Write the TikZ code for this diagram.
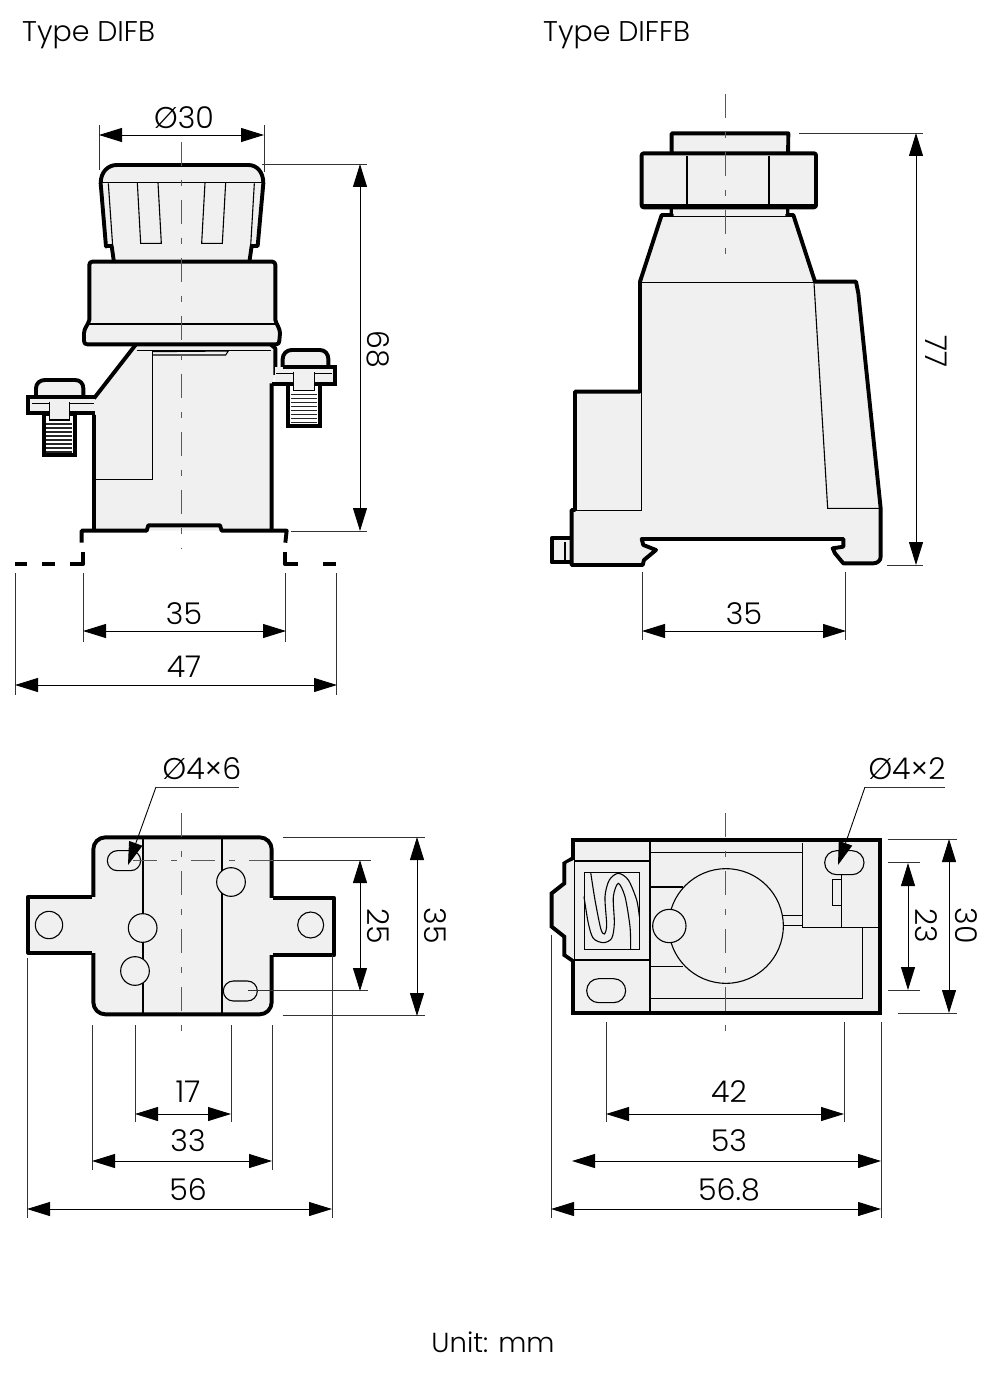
\documentclass[tikz,border=0pt]{standalone}
\usepackage{fontspec}
\setmainfont{Poppins}[UprightFont=* Light]
\usetikzlibrary{arrows.meta}
\tikzset{
    outline/.style={draw,line width=3.9pt,fill=partfill,line join=round},
    heavy/.style={line width=3.9pt,line join=round},
    detail/.style={line width=1.1pt},
    thread/.style={line width=1.5pt,draw=black!85},
    centerline/.style={line width=0.8pt,draw=black!65,dash pattern=on 24pt off 14pt on 6pt off 14pt},
    extline/.style={line width=0.8pt,draw=black!80},
    dimline/.style={line width=0.9pt,{Triangle[length=23pt,width=14pt]}-{Triangle[length=23pt,width=14pt]}},
    leader/.style={line width=0.9pt,-{Triangle[length=23pt,width=14pt]}},
    dimlabel/.style={font=\fontsize{30}{30}\selectfont,inner sep=0pt},
    titlelabel/.style={font=\fontsize{28.5}{29}\selectfont,inner sep=0pt}
}
\definecolor{partfill}{gray}{0.94}
\begin{document}
\begin{tikzpicture}[x=1pt,y=-1pt]
    \useasboundingbox (0,0) rectangle (988,1391);

    \node[titlelabel,anchor=base west] (typeA) at (22,42) {Type DIFB};
    \node[titlelabel,anchor=base west] (typeB) at (543,42) {Type DIFFB};
    \node[titlelabel,anchor=base,font=\fontsize{27.5}{28}\selectfont] (unit) at (493,1352) {Unit: mm};

    % side view, DIFB
    \begin{scope}[shift={(0,90)},scale=1/3]
        % base and rail
        \fill[partfill] (408,763) -- (282,925) -- (282,1322) -- (815,1322) -- (815,881) -- (826,855) -- (826,763) -- cycle;
        \draw[heavy] (245,1358) -- (245,1322) -- (440,1322) -- (445,1306) -- (660,1306) -- (665,1322) -- (860,1322) -- (856,1358);
        \draw[heavy] (45,1423) -- (80,1423) (125,1423) -- (165,1423) (210,1423) -- (248,1423) -- (248,1385);
        \draw[heavy] (856,1385) -- (856,1423) -- (893,1423) (970,1423) -- (1008,1423);
        % body
        \draw[heavy] (408,763) -- (282,925) (282,975) -- (282,1322) (815,880) -- (815,1322);
        \draw[line width=1.6pt] (410,781) -- (812,781);
        \draw[heavy] (812,763) -- (826,775) -- (826,855);
        \draw[detail] (457,781) -- (457,1168) -- (287,1168);
        \draw[detail] (457,785) -- (685,783) -- (677,795) -- (457,795);
        % knob
        \draw[outline] (318,470) -- (302,280) .. controls (302,245) and (325,225) .. (350,225) -- (745,225) .. controls (770,225) and (790,245) .. (790,280) -- (773,468) -- (755,468) -- (748,517) -- (342,517) -- (335,468) -- (318,468) -- cycle;
        \draw[detail] (305,278) -- (787,278);
        \draw[detail] (325,280) -- (338,468) (763,280) -- (752,468);
        \draw[detail] (412,278) -- (422,460) -- (484,460) -- (474,278);
        \draw[detail] (615,278) -- (605,460) -- (667,460) -- (677,278);
        % collar
        \draw[outline] (268,690) -- (268,525) [rounded corners=3pt] -- (268,515) -- (826,515) [sharp corners] -- (826,690) .. controls (830,705) and (840,715) .. (840,730) -- (838,752) .. controls (838,760) and (835,763) .. (828,763) -- (262,763) .. controls (255,763) and (252,760) .. (252,752) -- (252,730) .. controls (252,715) and (264,705) .. (268,690) -- cycle;
        \draw[detail] (258,702) -- (834,702);
        % left screw
        \draw[outline] (108,925) -- (108,895) .. controls (108,880) and (120,870) .. (135,870) -- (225,870) .. controls (240,870) and (250,880) .. (250,895) -- (250,925) -- cycle;
        \draw[draw,line width=3.9pt,fill=white] (131,972) rectangle (225,1095);
        \fill[partfill] (83,922) rectangle (285,970);
        \draw[heavy,line join=miter] (285,922) -- (83,922) -- (83,970) -- (285,970);
        \draw[detail] (95,940) -- (282,940);
        \fill[partfill] (148,935) rectangle (208,990);
        \draw[detail] (148,935) -- (148,990) -- (208,990) -- (208,935);
        \foreach \y in {1002,1014,...,1086} {
            \draw[thread] (139,\y) -- (217,\y);
        }
        % right screw
        \draw[outline] (848,835) -- (848,807) .. controls (848,792) and (860,780) .. (875,780) -- (960,780) .. controls (975,780) and (985,792) .. (985,807) -- (985,835) -- cycle;
        \draw[draw,line width=3.9pt,fill=white] (865,882) rectangle (960,1008);
        \fill[partfill] (826,832) rectangle (1005,882);
        \draw[heavy,line join=miter] (848,832) -- (1005,832) -- (1005,882) -- (815,882);
        \draw[detail] (828,850) -- (996,850);
        \fill[partfill] (880,845) rectangle (944,902);
        \draw[detail] (880,845) -- (880,902) -- (944,902) -- (944,845);
        \foreach \y in {914,926,...,998} {
            \draw[thread] (873,\y) -- (951,\y);
        }
        \draw[centerline] (545,155) -- (545,1375);
    \end{scope}
    % dimensions, DIFB side
    \draw[extline] (99,125) -- (99,170) (264,125) -- (264,172);
    \draw[dimline] (99,135) -- (264,135);
    \node[dimlabel] (diaKnob) at (184,118) {Ø30};
    \draw[extline] (262,164) -- (367,164) (291,531) -- (367,531);
    \draw[dimline] (360,164) -- (360,531);
    \node[dimlabel,rotate=-90] (heightA) at (378,349) {68};
    \draw[extline] (83,573) -- (83,642) (285,573) -- (285,642) (15,573) -- (15,695) (336,573) -- (336,695);
    \draw[dimline] (83,631) -- (286,631);
    \node[dimlabel] (railA) at (184,614) {35};
    \draw[dimline] (15,685) -- (337,685);
    \node[dimlabel] (widthA) at (184,667) {47};

    % side view, DIFFB
    \begin{scope}[shift={(530,90)},scale=1/3]
        \draw[outline] (65,1345) rectangle (125,1417);
        \draw[detail] (105,1355) -- (105,1410);
        \draw[outline] (135,1260) -- (135,905) -- (330,905) -- (330,575) -- (395,375) -- (790,375) -- (855,575) -- (978,575) -- (985,610) -- (1052,1255) -- (1052,1400) .. controls (1052,1412) and (1042,1420) .. (1030,1420) -- (940,1420) -- (915,1390) -- (908,1375) -- (940,1370) -- (940,1347) -- (335,1347) -- (340,1365) -- (378,1380) -- (342,1410) -- (338,1425) -- (125,1425) -- (125,1260) -- cycle;
        \draw[detail] (335,578) -- (855,578);
        \draw[detail] (852,578) -- (893,1255) -- (1048,1255);
        \draw[line width=1.4pt] (335,905) -- (335,1262) -- (130,1262);
        % neck and nut
        \draw[outline] (425,378) -- (425,130) -- (775,130) -- (772,378);
        \fill[partfill] (429,345) rectangle (768,372);
        \draw[outline,rounded corners=2pt] (335,190) rectangle (858,352);
        \draw[detail] (471,197) -- (471,345) (717,197) -- (717,345);
        \draw[detail] (340,345) -- (853,345);
        \draw[centerline] (587,12) -- (587,520);
    \end{scope}
    % dimensions, DIFFB side
    \draw[extline] (799,133) -- (923,133) (887,565) -- (923,565);
    \draw[dimline] (916,133) -- (916,565);
    \node[dimlabel,rotate=-90] (heightB) at (936,351) {77};
    \draw[extline] (642,572) -- (642,640) (845,572) -- (845,640);
    \draw[dimline] (642,631) -- (846,631);
    \node[dimlabel] (railB) at (744,614) {35};

    % bottom view, DIFB
    \begin{scope}[shift={(0,750)},scale=1/3]
        \draw[outline,rounded corners=12pt] (280,262) rectangle (815,793);
        \fill[partfill] (85,440) rectangle (287,608);
        \fill[partfill] (808,445) rectangle (1003,615);
        \draw[heavy] (275,440) -- (85,440) -- (85,608) -- (275,608);
        \draw[heavy] (820,445) -- (1003,445) -- (1003,615) -- (820,615);
        \draw[detail] (429,268) -- (429,790) (666,268) -- (666,790);
        \draw[detail,fill=partfill] (147,525) circle (41) (932,525) circle (39) (693,396) circle (43) (428,534) circle (43) (405,663) circle (43);
        \draw[detail,rounded corners=10pt] (322,302) rectangle (422,362);
        \draw[detail,rounded corners=10pt] (670,693) rectangle (772,753);
        \draw[centerline] (545,190) -- (545,870);
        \draw[centerline] (400,331) -- (820,331);
        \draw[extline] (820,331) -- (1112,331) (745,722) -- (1105,722);
        \draw[extline] (848,261) -- (1275,261) (848,797) -- (1275,797);
    \end{scope}
    % dimensions, DIFB bottom
    \draw[dimline] (360,860) -- (360,991);
    \node[dimlabel,rotate=-90] (holesA) at (378,926) {25};
    \draw[dimline] (417,837) -- (417,1016);
    \node[dimlabel,rotate=-90] (depthA) at (435,926) {35};
    \node[dimlabel] (slotA) at (202,769) {Ø4×6};
    \draw[extline] (239,787) -- (156,787);
    \draw[leader] (156,787) -- (128,865);
    \draw[extline] (27,958) -- (27,1218) (92,1025) -- (92,1170) (135,1025) -- (135,1122) (231,1025) -- (231,1122) (272,1025) -- (272,1170) (332,955) -- (332,1218);
    \draw[dimline] (135,1114) -- (231,1114);
    \node[dimlabel] (pitchA) at (188,1092) {17};
    \draw[dimline] (92,1161) -- (272,1161);
    \node[dimlabel] (bodyA) at (188,1141) {33};
    \draw[dimline] (27,1209) -- (332,1209);
    \node[dimlabel] (totalA) at (188,1190) {56};

    % bottom view, DIFFB
    \begin{scope}[shift={(530,750)},scale=1/3]
        \draw[outline,line join=miter] (128,325) -- (103,340) -- (103,400) -- (65,430) -- (65,530) -- (103,560) -- (103,615) -- (128,632);
        \draw[outline,line join=miter] (128,270) rectangle (1050,788);
        \fill[partfill] (110,340) -- (132,330) -- (132,628) -- (110,612) -- cycle;
        \draw[line width=4.6pt] (125,789) -- (372,789);
        \draw[detail] (133,333) -- (133,630);
        \draw[line width=1.4pt] (360,270) -- (360,790);
        \draw[detail] (133,333) -- (360,333) (133,630) -- (360,630);
        \draw[line width=1.4pt] (163,367) rectangle (328,598);
        \draw[detail] plot[smooth] coordinates {(162,440) (175,520) (190,565) (220,578) (245,565) (253,520) (250,440) (265,400) (285,440) (300,530) (302,598)};
        \draw[detail] plot[smooth] coordinates {(182,367) (195,450) (212,535) (223,552) (230,525) (225,440) (238,390) (265,370) (295,390) (320,450) (328,500)};
        \draw[detail,rounded corners=12pt] (170,686) rectangle (287,758);
        \draw[detail] (360,307) -- (815,307) (360,411) -- (460,411) (360,649) -- (460,649);
        \draw[detail] (818,278) -- (818,533) -- (1045,533);
        \draw[detail] (760,497) -- (818,497) (760,527) -- (818,527);
        \draw[detail] (998,533) -- (998,745) -- (360,745);
        \draw[detail] (934,374) -- (934,533);
        \draw[detail] (908,388) rectangle (934,467);
        \draw[detail,rounded corners=12pt] (884,302) rectangle (1002,374);
        \draw[detail,fill=partfill] (588,528) circle (172);
        \draw[detail,fill=partfill] (418,528) circle (50);
        \draw[centerline] (587,190) -- (587,875);
        \draw[extline] (1073,268) -- (1280,268) (1105,790) -- (1280,790) (1075,338) -- (1170,338) (1075,720) -- (1170,720);
    \end{scope}
    % dimensions, DIFFB bottom
    \draw[dimline] (908,863) -- (908,990);
    \node[dimlabel,rotate=-90] (holesB) at (926,926) {23};
    \draw[dimline] (949,839) -- (949,1013);
    \node[dimlabel,rotate=-90] (depthB) at (966,926) {30};
    \node[dimlabel] (slotB) at (907,769) {Ø4×2};
    \draw[extline] (945,787) -- (865,787);
    \draw[leader] (865,787) -- (838,865);
    \draw[extline] (551,935) -- (551,1218) (606,1022) -- (606,1122) (844,1022) -- (844,1122) (881,1022) -- (881,1218);
    \draw[dimline] (606,1114) -- (844,1114);
    \node[dimlabel] (pitchB) at (729,1092) {42};
    \draw[dimline] (572,1161) -- (881,1161);
    \node[dimlabel] (bodyB) at (729,1141) {53};
    \draw[dimline] (551,1209) -- (881,1209);
    \node[dimlabel] (totalB) at (729,1190) {56.8};
\end{tikzpicture}
\end{document}
